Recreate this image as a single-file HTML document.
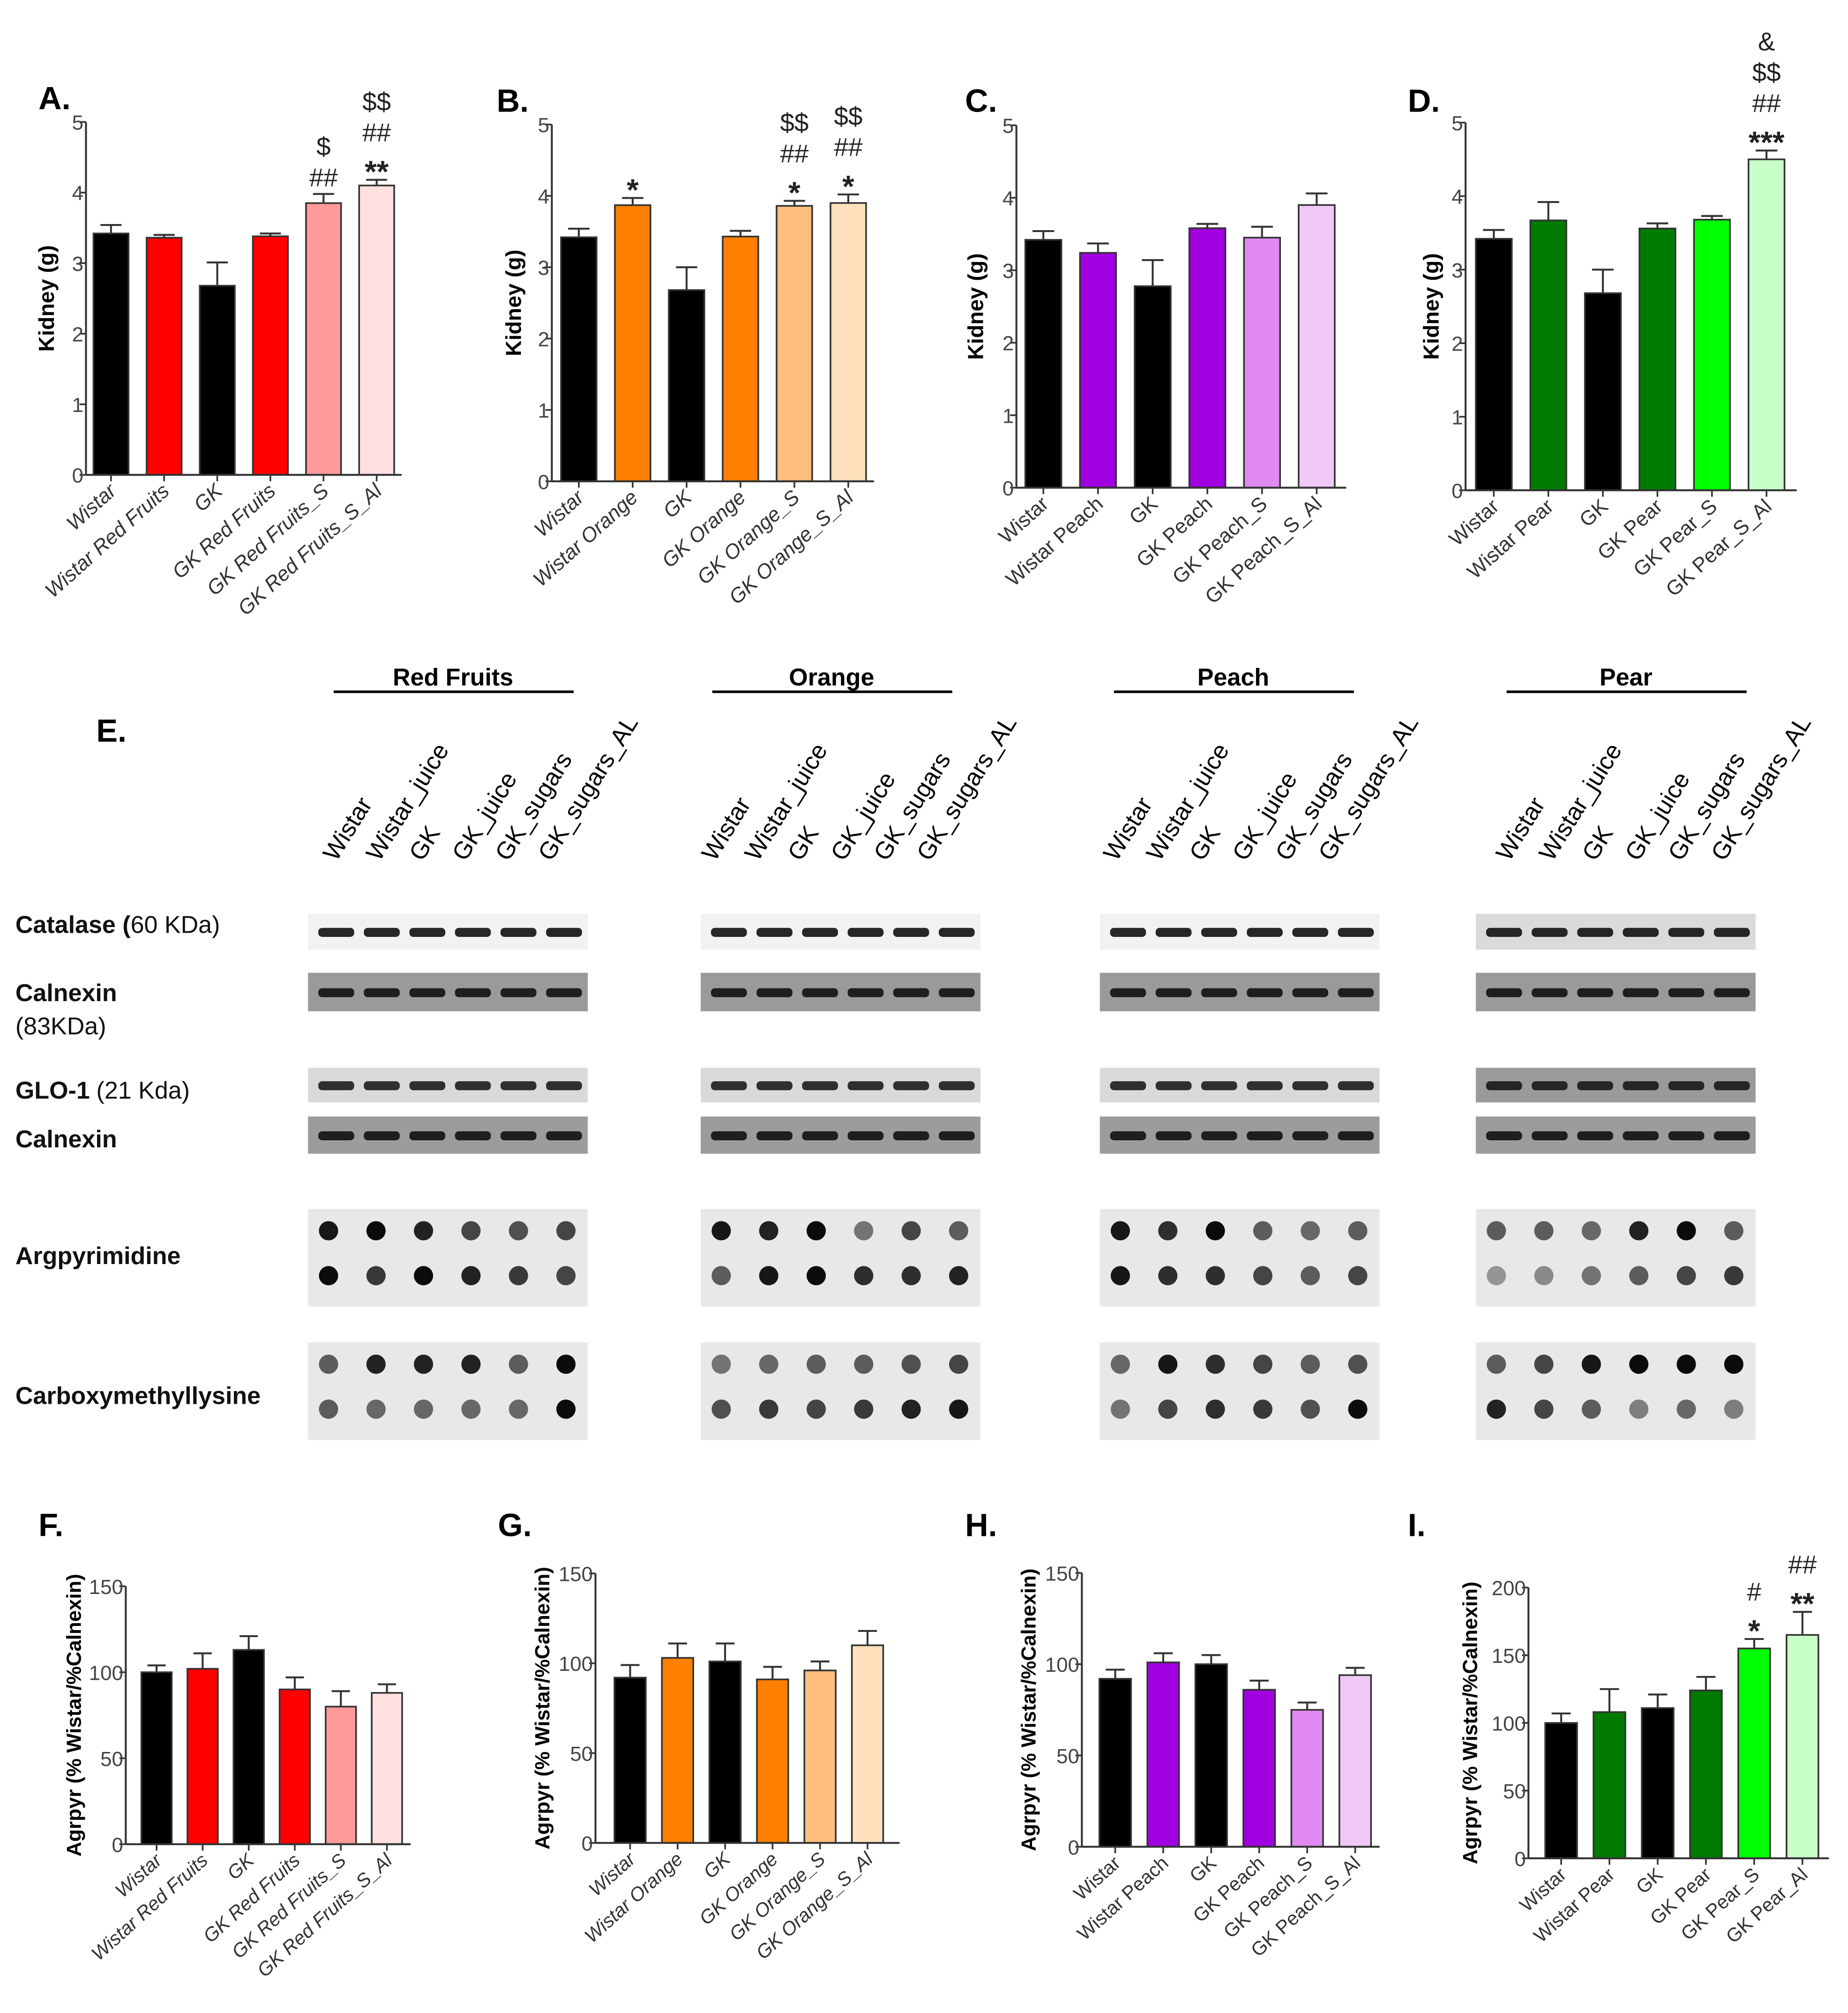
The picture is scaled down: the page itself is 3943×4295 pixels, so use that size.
<!DOCTYPE html>
<html><head><meta charset="utf-8">
<style>
html,body{margin:0;padding:0;background:#fff;}
svg{display:block;font-family:"Liberation Sans",Arial,sans-serif;}
</style></head>
<body>
<svg id="fig" xmlns="http://www.w3.org/2000/svg" width="3943" height="4295" viewBox="0 0 1440 1568.5">
<rect x="0" y="0" width="1440" height="1568.5" fill="#fff"/>
<g id="charts"></g>
<g id="blots"></g>
</svg>
<script>
// ---- data ----
const catsA = ["Wistar","Wistar Red Fruits","GK","GK Red Fruits","GK Red Fruits_S","GK Red Fruits_S_Al"];
const catsB = ["Wistar","Wistar Orange","GK","GK Orange","GK Orange_S","GK Orange_S_Al"];
const catsC = ["Wistar","Wistar Peach","GK","GK Peach","GK Peach_S","GK Peach_S_Al"];
const catsD = ["Wistar","Wistar Pear","GK","GK Pear","GK Pear_S","GK Pear_S_Al"];
const catsI = ["Wistar","Wistar Pear","GK","GK Pear","GK Pear_S","GK Pear_Al"];
const valsA = [3.42,3.36,2.68,3.38,3.85,4.10];
const errA  = [0.12,0.04,0.33,0.04,0.13,0.08];
const valsB = [3.42,3.87,2.68,3.43,3.86,3.90];
const errB  = [0.12,0.10,0.32,0.08,0.07,0.12];
const valsC = [3.42,3.24,2.78,3.58,3.45,3.90];
const errC  = [0.12,0.13,0.36,0.06,0.15,0.16];
const valsD = [3.42,3.67,2.68,3.56,3.68,4.50];
const errD  = [0.12,0.25,0.32,0.07,0.05,0.12];
const valsF = [100,102,113,90,80,88];
const errF  = [4,9,8,7,9,5];
const valsG = [92,103,101,91,96,110];
const errG  = [7,8,10,7,5,8];
const valsH = [92,101,100,86,75,94];
const errH  = [5,5,5,5,4,4];
const valsI = [100,108,111,124,155,165];
const errI  = [7,17,10,10,7,17];
const ticksKidney = [0,1,2,3,4,5];
const ticks150 = [0,50,100,150];
const ticks200 = [0,50,100,150,200];
const annA = [[],[],[],[],["##","$"],["**","##","$$"]];
const annB = [[],["*"],[],[],["*","##","$$"],["*","##","$$"]];
const annC = [[],[],[],[],[],[]];
const annD = [[],[],[],[],[],["***","##","$$","&"]];
const annF = [[],[],[],[],[],[]];
const annI = [[],[],[],[],["*","#"],["**","##"]];

const red=["#000","#ff0000","#000","#ff0000","#ff9a9a","#ffdfe0"];
const org=["#000","#ff7f00","#000","#ff7f00","#ffbe7d","#ffe0bd"];
const pur=["#000","#a100e0","#000","#a100e0","#e08af2","#f0c8f6"];
const grn=["#000","#007a00","#000","#007a00","#00ff00","#c8ffc8"];

const NS="http://www.w3.org/2000/svg";
function mk(tag,attrs,parent,text){const e=document.createElementNS(NS,tag);for(const k in attrs)e.setAttribute(k,attrs[k]);if(text!==undefined)e.textContent=text;parent.appendChild(e);return e;}

const panels=[
 {id:"A",cats:catsA,vals:valsA,err:errA,ticks:ticksKidney,max:5,ann:annA,col:red,ax:67,y0:370,yT:95,x0:86.5,dx:41.4,xEnd:313,title:"Kidney (g)",lx:30,ly:85,tx:42,fs:16,it:true},
 {id:"B",cats:catsB,vals:valsB,err:errB,ticks:ticksKidney,max:5,ann:annB,col:org,ax:430,y0:375,yT:97,x0:451,dx:42,xEnd:681,title:"Kidney (g)",lx:387,ly:87,tx:406,fs:16,it:true},
 {id:"C",cats:catsC,vals:valsC,err:errC,ticks:ticksKidney,max:5,ann:annC,col:pur,ax:792,y0:380,yT:97.6,x0:813,dx:42.6,xEnd:1049,title:"Kidney (g)",lx:752,ly:87,tx:766,fs:16,it:false},
 {id:"D",cats:catsD,vals:valsD,err:errD,ticks:ticksKidney,max:5,ann:annD,col:grn,ax:1142,y0:382,yT:95.5,x0:1164,dx:42.5,xEnd:1400,title:"Kidney (g)",lx:1097,ly:87,tx:1121,fs:16,it:false},
 {id:"F",cats:catsA,vals:valsF,err:errF,ticks:ticks150,max:150,ann:annF,col:red,ax:98,y0:1437,yT:1236,x0:122,dx:35.9,xEnd:320,title:"Agrpyr (% Wistar/%Calnexin)",lx:30,ly:1197,tx:63,fs:15,it:true},
 {id:"G",cats:catsB,vals:valsG,err:errG,ticks:ticks150,max:150,ann:annF,col:org,ax:464,y0:1436,yT:1226,x0:491,dx:37,xEnd:701,title:"Agrpyr (% Wistar/%Calnexin)",lx:388,ly:1197,tx:428,fs:15,it:true},
 {id:"H",cats:catsC,vals:valsH,err:errH,ticks:ticks150,max:150,ann:annF,col:pur,ax:843,y0:1439,yT:1225.6,x0:869,dx:37.4,xEnd:1075,title:"Agrpyr (% Wistar/%Calnexin)",lx:752,ly:1197,tx:807,fs:15,it:false},
 {id:"I",cats:catsI,vals:valsI,err:errI,ticks:ticks200,max:200,ann:annI,col:grn,ax:1191,y0:1448,yT:1237,x0:1216.5,dx:37.6,xEnd:1425,title:"Agrpyr (% Wistar/%Calnexin)",lx:1097,ly:1197,tx:1151,fs:15,it:false}
];

const root=document.getElementById("charts");
panels.forEach(p=>{
  const g=mk("g",{},root);
  
  
  const yS=v=>p.y0-(v/p.max)*(p.y0-p.yT);
  const xS=i=>p.x0+i*p.dx;
  const bw=p.dx*0.66;
  const lab=mk("text",{x:p.lx,y:p.ly,"font-size":25,"font-weight":"bold"},g,p.id+".");
  
  
  p.vals.forEach((v,i)=>{
    const x=xS(i), y=yS(v), ye=yS(v+p.err[i]);
    mk("line",{x1:x,y1:y,x2:x,y2:ye,stroke:"#333","stroke-width":1.5},g);
    mk("line",{x1:x-bw*0.3,y1:ye,x2:x+bw*0.3,y2:ye,stroke:"#333","stroke-width":1.5},g);
    const r=mk("rect",{x:x-bw/2,y:y,width:bw,height:p.y0-y,fill:p.col[i],stroke:"#333","stroke-width":1.3},g);
    
    
    (p.ann[i]||[]).forEach((s,k)=>{
      const star=s.indexOf("*")>=0;
      const t=mk("text",{x:x,y:ye-6-k*24+(star?8:0),"font-size":star?24:20,"text-anchor":"middle","font-weight":star?"bold":"normal",fill:"#222"},g,s);
      
      
    });
    const c=mk("text",{x:x+5,y:p.y0+14,"font-size":p.fs,"font-style":p.it?"italic":"normal","text-anchor":"end",fill:"#333",transform:`rotate(-42 ${x+5} ${p.y0+14})`},g,p.cats[i]);
    
    
    mk("line",{x1:x,y1:p.y0,x2:x,y2:p.y0+5,stroke:"#333","stroke-width":1.3},g);
  });
  mk("line",{x1:p.ax,y1:p.yT,x2:p.ax,y2:p.y0,stroke:"#333","stroke-width":1.5},g);
  mk("line",{x1:p.ax,y1:p.y0,x2:p.xEnd,y2:p.y0,stroke:"#333","stroke-width":1.5},g);
  p.ticks.forEach(t=>{
    const y=yS(t);
    mk("line",{x1:p.ax-5,y1:y,x2:p.ax,y2:y,stroke:"#333","stroke-width":1.3},g);
    const tl=mk("text",{x:p.ax-2,y:y+6,"font-size":16,"text-anchor":"end",fill:"#444"},g,String(t));
    
    
  });
  const my=(p.y0+p.yT)/2;
  const yt=mk("text",{x:p.tx,y:my,"font-size":p.fs+1,"font-weight":"bold","text-anchor":"middle",transform:`rotate(-90 ${p.tx} ${my})`},g,p.title);
  
  
});

// ---- blots (section E) ----
const groups=["Red Fruits","Orange","Peach","Pear"];
const groupX=[240,546,857,1150];
const ulX=[260,555,868,1174];
const lanes=["Wistar","Wistar_juice","GK","GK_juice","GK_sugars","GK_sugars_AL"];
const rowLabels=[["Catalase (","60 KDa)",727],["Calnexin","",780],["(83KDa)","",806],["GLO-1","(21 Kda)",856],["Calnexin","",894],["Argpyrimidine","",985],["Carboxymethyllysine","",1094]];
const argTop=[[.9,.95,.85,.7,.65,.7],[.9,.85,.95,.5,.7,.6],[.9,.8,.95,.6,.55,.6],[.6,.6,.55,.85,.95,.6]];
const argBot=[[.95,.75,.95,.85,.75,.7],[.6,.9,.95,.8,.8,.85],[.9,.8,.8,.7,.6,.7],[.35,.4,.5,.6,.7,.75]];
const cmlTop=[[.6,.85,.85,.85,.6,.95],[.5,.55,.6,.6,.65,.7],[.55,.9,.8,.7,.6,.65],[.6,.7,.9,.95,.95,.95]];
const cmlBot=[[.6,.55,.55,.55,.55,.95],[.65,.75,.7,.75,.85,.9],[.5,.7,.8,.75,.65,.95],[.85,.7,.6,.45,.55,.45]];
const B=document.getElementById("blots");
const eL=mk("text",{x:75,y:578,"font-size":25,"font-weight":"bold"},B,"E.");


rowLabels.forEach(r=>{
  const t=mk("text",{x:12,y:r[2],"font-size":19,"font-weight":r[0].startsWith("(")?"normal":"bold",fill:"#111"},B);
  
  
  t.appendChild(document.createTextNode(r[0]));
  if(r[1]){mk("tspan",{"font-weight":"normal",dx:r[0].endsWith("(")?0:5},t,r[1]);}
});
function gray(d){const v=Math.round(255*(1-d)*0.9);return `rgb(${v},${v},${v})`;}
groups.forEach((gn,gi)=>{
  const gx=groupX[gi], ux=ulX[gi];
  const g=mk("g",{},B);
  
  
  const h=mk("text",{x:ux+93,y:534,"font-size":19,"font-weight":"bold","text-anchor":"middle"},g,gn);
  
  
  mk("line",{x1:ux,y1:539,x2:ux+187,y2:539,stroke:"#000","stroke-width":2},g);
  lanes.forEach((l,i)=>{
    const x=ux+2+i*33.5, y=672;
    const t=mk("text",{x:x,y:y,"font-size":19,transform:`rotate(-58 ${x} ${y})`},g,l);
    
    
  });
  const strips=[[712,28,"#f2f2f2",.9],[758,30,"#9a9a9a",.9],[832,27,"#d9d9d9",.85],[870,29,"#9c9c9c",.9]];
  if(gi==3){strips[2][2]="#9a9a9a";strips[0][2]="#dadada";}
  strips.forEach(s=>{
    mk("rect",{x:gx,y:s[0],width:218,height:s[1],fill:s[2]},g);
    for(let i=0;i<6;i++){
      mk("rect",{x:gx+8+i*35.5,y:s[0]+s[1]/2-3,width:28,height:7,rx:3,fill:"#111",opacity:s[3]},g);
    }
  });
  [[942,argTop[gi],argBot[gi]],[1046,cmlTop[gi],cmlBot[gi]]].forEach(d=>{
    mk("rect",{x:gx,y:d[0],width:218,height:76,fill:"#e8e8e8"},g);
    for(let i=0;i<6;i++){
      const cx=gx+16+i*37;
      const a=mk("circle",{cx:cx,cy:d[0]+17,r:7.5,fill:gray(d[1][i])},g);
      
      
      const b=mk("circle",{cx:cx,cy:d[0]+52,r:7.5,fill:gray(d[2][i])},g);
      
      
    }
  });
});
</script>
</body></html>
